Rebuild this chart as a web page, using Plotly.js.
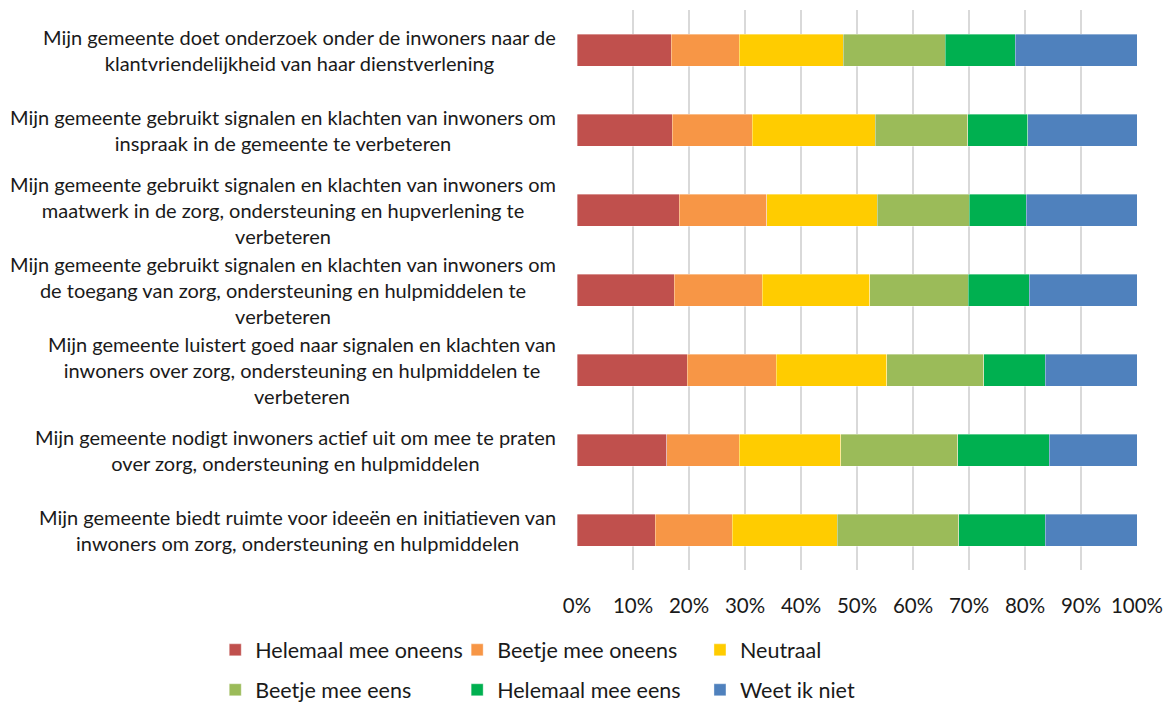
<!DOCTYPE html>
<html>
<head>
<meta charset="utf-8">
<script src="https://cdn.plot.ly/plotly-3.0.1.min.js"></script>
<style>
  html, body { margin: 0; padding: 0; background: #ffffff; }
  #chart { width: 1168px; height: 708px; }
</style>
</head>
<body>
<div id="chart"></div>
<script>
// Statements (top to bottom), with line breaks as they are wrapped
const statements = [
  "Mijn gemeente doet onderzoek onder de inwoners naar de<br>klantvriendelijkheid van haar dienstverlening",
  "Mijn gemeente gebruikt signalen en klachten van inwoners om<br>inspraak in de gemeente te verbeteren",
  "Mijn gemeente gebruikt signalen en klachten van inwoners om<br>maatwerk in de zorg, ondersteuning en hupverlening te<br>verbeteren",
  "Mijn gemeente gebruikt signalen en klachten van inwoners om<br>de toegang van zorg, ondersteuning en hulpmiddelen te<br>verbeteren",
  "Mijn gemeente luistert goed naar signalen en klachten van<br>inwoners over zorg, ondersteuning en hulpmiddelen te<br>verbeteren",
  "Mijn gemeente nodigt inwoners actief uit om mee te praten<br>over zorg, ondersteuning en hulpmiddelen",
  "Mijn gemeente biedt ruimte voor ideeën en initiatieven van<br>inwoners om zorg, ondersteuning en hulpmiddelen"
];

// Answer categories
const answers = [
  "Helemaal mee oneens",
  "Beetje mee oneens",
  "Neutraal",
  "Beetje mee eens",
  "Helemaal mee eens",
  "Weet ik niet"
];

// Share of respondents per answer (%), one value per statement
const helemaalOneens = [16.8, 17.0, 18.3, 17.4, 19.7, 16.0, 14.0];
const beetjeOneens   = [12.2, 14.3, 15.6, 15.7, 15.9, 13.0, 13.7];
const neutraal       = [18.5, 22.0, 19.7, 19.2, 19.7, 18.1, 18.8];
const beetjeEens     = [18.3, 16.5, 16.4, 17.6, 17.3, 20.9, 21.7];
const helemaalEens   = [12.5, 10.7, 10.2, 10.9, 11.0, 16.3, 15.4];
const weetNiet       = [21.7, 19.5, 19.8, 19.2, 16.4, 15.7, 16.4];

const xTickValues = [0, 10, 20, 30, 40, 50, 60, 70, 80, 90, 100];
const xTickLabels = ["0%", "10%", "20%", "30%", "40%", "50%", "60%", "70%", "80%", "90%", "100%"];

const seriesValues = [helemaalOneens, beetjeOneens, neutraal, beetjeEens, helemaalEens, weetNiet];
const colors = ["#C0504D", "#F79646", "#FFCC00", "#9BBB59", "#00B050", "#4F81BD"];
// Legend columns: each column is its own legend with two rows
const legendOf = ["legend", "legend2", "legend3", "legend", "legend2", "legend3"];

const FONT = "Lato, 'Open Sans', sans-serif";

const traces = answers.map((name, i) => ({
  type: "bar",
  orientation: "h",
  name: name,
  x: seriesValues[i],
  y: statements,
  width: 0.4,
  marker: { color: colors[i], line: { width: 0.6, color: "rgba(255,255,255,0.6)" } },
  legend: legendOf[i],
  legendgroup: "g" + i,
  hoverinfo: "name+x"
}));

const annotations = statements.map(s => ({
  xref: "paper", yref: "y",
  x: -0.034, y: s,
  xanchor: "right", yanchor: "middle",
  align: "center",
  text: s,
  showarrow: false,
  font: { family: FONT, size: 20, color: "#1a1a1a" }
}));

const legendBase = {
  orientation: "v",
  xanchor: "left", yanchor: "top",
  y: -0.106,
  bgcolor: "rgba(0,0,0,0)",
  font: { family: FONT, size: 21.5, color: "#1a1a1a" },
  tracegroupgap: 9,
  itemclick: false, itemdoubleclick: false
};

const layout = {
  width: 1168, height: 708,
  margin: { l: 577, r: 31, t: 10, b: 138, autoexpand: false },
  paper_bgcolor: "#ffffff",
  plot_bgcolor: "#ffffff",
  barmode: "stack",
  showlegend: true,
  xaxis: {
    range: [0, 100],
    tickvals: xTickValues,
    ticktext: xTickLabels,
    showgrid: true,
    gridcolor: "#D9D9D9",
    gridwidth: 1.5,
    zeroline: false,
    showline: false,
    ticks: "",
    ticklabelstandoff: 21,
    tickfont: { family: FONT, size: 20.5, color: "#1a1a1a" },
    fixedrange: true
  },
  yaxis: {
    type: "category",
    autorange: "reversed",
    showticklabels: false,
    showgrid: false,
    zeroline: false,
    showline: false,
    ticks: "",
    fixedrange: true
  },
  legend:  Object.assign({}, legendBase, { x: -0.646 }),
  legend2: Object.assign({}, legendBase, { x: -0.214 }),
  legend3: Object.assign({}, legendBase, { x: 0.2196 }),
  annotations: annotations
};

Plotly.newPlot("chart", traces, layout, { displayModeBar: false, staticPlot: true });
</script>
</body>
</html>
